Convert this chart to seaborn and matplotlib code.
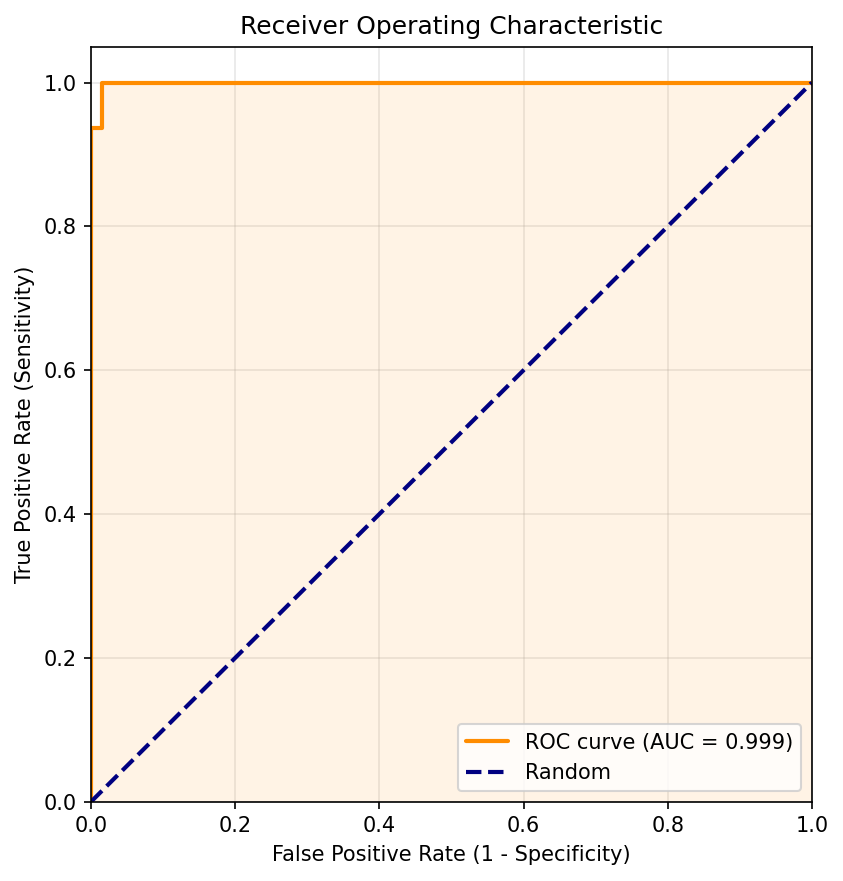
import numpy as np
import pandas as pd
import seaborn as sns
import matplotlib
matplotlib.use("Agg")
import matplotlib.pyplot as plt

fpr = [0.0, 0.0, 0.015625, 0.015625, 1.0]
tpr = [0.0, 0.9375, 0.9375, 1.0, 1.0]
diag = [0.0, 1.0]
auc_label = "ROC curve (AUC = 0.999)"

sns.set_style("ticks", rc={"text.color": "black", "axes.labelcolor": "black",
                           "xtick.color": "black", "ytick.color": "black",
                           "axes.edgecolor": "black", "grid.color": "#b0b0b0"})
plt.rcParams['font.family'] = ['DejaVu Sans']

fig, ax = plt.subplots(figsize=(843/150, 881/150), dpi=150)
fig.subplots_adjust(left=0.108, right=0.963, top=0.947, bottom=0.09)

roc = pd.DataFrame({"fpr": fpr, "tpr": tpr})
sns.lineplot(data=roc, x="fpr", y="tpr", ax=ax, color="darkorange", lw=2,
             label=auc_label, sort=False, estimator=None)
ax.fill_between(fpr, tpr, color="darkorange", alpha=0.1, lw=0)
sns.lineplot(x=diag, y=diag, ax=ax, color="navy", lw=2, linestyle="--", label="Random")

ax.set_xlim(0.0, 1.0)
ax.set_ylim(0.0, 1.05)
ax.set_xlabel("False Positive Rate (1 - Specificity)")
ax.set_ylabel("True Positive Rate (Sensitivity)")
ax.set_title("Receiver Operating Characteristic")
ax.grid(True, alpha=0.3)
ax.legend(loc="lower right")

fig.savefig("out.png", dpi=150)
